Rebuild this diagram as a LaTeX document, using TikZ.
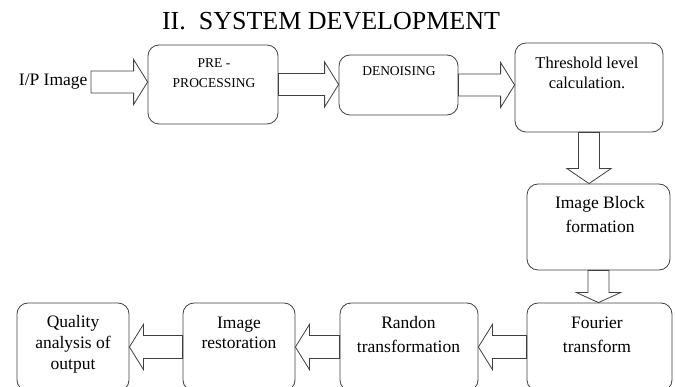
\documentclass[tikz,border=0pt]{standalone}
\usepackage{fontspec}
\setmainfont{Liberation Serif}
\usetikzlibrary{calc,positioning}
\definecolor{boxline}{HTML}{404040}

\tikzset{
	box/.style={draw=boxline, rounded corners=11pt, line width=0.8pt},
	bigtxt/.style={align=center, font=\fontsize{17.5}{23}\selectfont},
	captxt/.style={align=center, font=\fontsize{13.5}{20}\selectfont},
	blockarrow/.style={draw=boxline, fill=white, line width=0.8pt, line join=miter},
}

% hollow block arrows between boxes
\newcommand{\rightarr}[2]{%
	\draw[blockarrow] let \p1=(#1), \p2=(#2) in
		(\x1,\y1+11pt) -- (\x2-14pt,\y1+11pt) -- (\x2-14pt,\y1+22.5pt) -- (\x2,\y1)
		-- (\x2-14pt,\y1-22.5pt) -- (\x2-14pt,\y1-11pt) -- (\x1,\y1-11pt) -- cycle;}
\newcommand{\leftarr}[2]{%
	\draw[blockarrow] let \p1=(#1), \p2=(#2) in
		(\x1,\y1+11.5pt) -- (\x2+14pt,\y1+11.5pt) -- (\x2+14pt,\y1+22.5pt) -- (\x2,\y1)
		-- (\x2+14pt,\y1-22.5pt) -- (\x2+14pt,\y1-11.5pt) -- (\x1,\y1-11.5pt) -- cycle;}
\newcommand{\downarr}[3]{%
	\draw[blockarrow] let \p1=(#1), \p2=(#2) in
		(\x1-10.5pt,\y1) -- (\x1-10.5pt,\y2+#3pt) -- (\x1-22pt,\y2+#3pt) -- (\x1,\y2)
		-- (\x1+22pt,\y2+#3pt) -- (\x1+10.5pt,\y2+#3pt) -- (\x1+10.5pt,\y1) -- cycle;}

\begin{document}
\begin{tikzpicture}[x=1pt, y=-1pt]
	\useasboundingbox (0, 0) rectangle (675, 387);
	\clip (0, 0) rectangle (675, 387);

	\node (title) [font=\fontsize{26}{30}\selectfont] at (331, 21) {II.\ \ SYSTEM DEVELOPMENT};

	% top row
	\node (inp) [bigtxt, anchor=east] at (91, 82) {I/P Image};
	\node (pre) [box, minimum width=130, minimum height=79] at (213, 84.5) {};
	\node (den) [box, minimum width=119, minimum height=60] at (398.5, 85) {};
	\node (thr) [box, minimum width=148, minimum height=89] at (589, 87.5) {};
	\node (pre-t) [captxt] at (214, 73) {PRE -\\PROCESSING};
	\node (den-t) [captxt] at (399, 71) {DENOISING};
	\node (thr-t) [align=center, font=\fontsize{16.5}{20}\selectfont] at (587, 73) {Threshold level\\calculation.};

	% right column
	\node (blk) [box, minimum width=143, minimum height=86] at (598.5, 227) {};
	\node (blk-t) [bigtxt, font=\fontsize{17.5}{24}\selectfont] at (600, 215) {Image Block\\formation};

	% bottom row
	\node (fou) [box, minimum width=145, minimum height=88] at (599.5, 347) {};
	\node (ran) [box, minimum width=138, minimum height=88] at (409, 347) {};
	\node (res) [box, minimum width=112, minimum height=88] at (239, 347) {};
	\node (qua) [box, minimum width=112, minimum height=88] at (73, 347) {};
	\node (fou-t) [bigtxt, font=\fontsize{17.5}{24}\selectfont] at (597, 335) {Fourier\\transform};
	\node (ran-t) [bigtxt, font=\fontsize{17.5}{24}\selectfont] at (408.5, 335) {Randon\\transformation};
	\node (res-t) [bigtxt, font=\fontsize{17.5}{20}\selectfont] at (239, 333) {Image\\restoration};
	\node (qua-t) [bigtxt, font=\fontsize{17.5}{21}\selectfont] at (73, 344) {Quality\\analysis of\\output};

	\rightarr{inp.east}{pre.west}
	\rightarr{pre.east}{den.west}
	\rightarr{den.east}{thr.west}
	\downarr{thr.south}{blk.north}{15}
	\downarr{blk.south}{fou.north}{10}
	\leftarr{fou.west}{ran.east}
	\leftarr{ran.west}{res.east}
	\leftarr{res.west}{qua.east}
\end{tikzpicture}
\end{document}
